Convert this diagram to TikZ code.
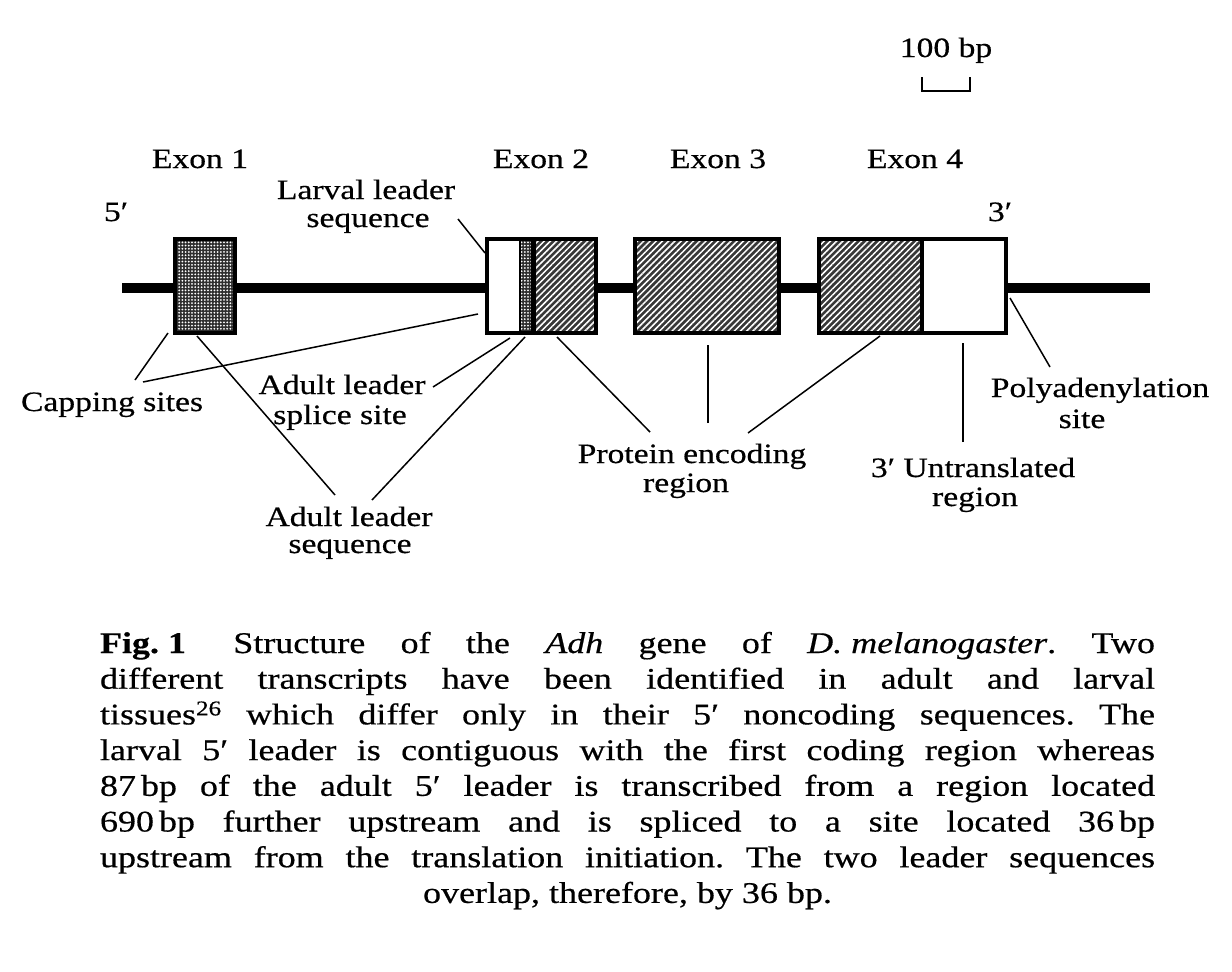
\documentclass[tikz,border=0pt]{standalone}
\usepackage{fontspec}
\setmainfont{Liberation Serif}[FakeStretch=1.2, FakeBold=0.5]
\usetikzlibrary{patterns,patterns.meta,calc}
\newcommand\lblfont{\fontsize{28}{30}\selectfont}
\frenchspacing
\tikzset{
  lbl/.style={inner sep=0pt, outer sep=0pt, anchor=base, font=\lblfont},
  dna/.style={line width=9.5pt},
  boxline/.style={line width=3.6pt},
  exonbox/.style={boxline, draw, inner sep=0pt, outer sep=0pt},
  stipple/.style={preaction={fill=black!82}, pattern={Dots[distance=3.2pt, radius=1pt]}, pattern color=white},
  hatch/.style={preaction={fill=black!78}, pattern={Lines[angle=45, distance=4.4pt, line width=1.5pt]}, pattern color=white},
  lead/.style={line width=1.5pt},
  scalebar/.style={line width=2.4pt}
}
\begin{document}
\begin{tikzpicture}[x=1pt,y=-1pt]
\useasboundingbox (0,0) rectangle (1232,972);
\fill[white] (0,0) rectangle (1232,972);

% DNA line
\coordinate (dnaL) at (122,288);
\coordinate (dnaR) at (1150,288);
\draw[dna] (dnaL) -- (dnaR);

% Exon 1
\node[exonbox, stipple, minimum width=60pt, minimum height=94pt] (ex1) at (205,286) {};

% Exon 2
\node[exonbox, fill=white, minimum width=109pt, minimum height=94pt] (ex2) at (541.5,286) {};
\path[stipple] (520,239) rectangle (532,333);
\fill (531,239) rectangle (536,333);
\path[hatch] (536,239) rectangle (596,333);
\draw[boxline] (ex2.north west) rectangle (ex2.south east);
\draw[line width=2pt] (520,239) -- (520,333);

% Exon 3
\node[exonbox, hatch, minimum width=144pt, minimum height=94pt] (ex3) at (707,286) {};

% Exon 4
\node[exonbox, fill=white, minimum width=187pt, minimum height=94pt] (ex4) at (912.5,286) {};
\path[hatch] (819,239) rectangle (922,333);
\draw[boxline] (922,239) -- (922,333);
\draw[boxline] (ex4.north west) rectangle (ex4.south east);

% scale bar
\node[lbl] (scale) at (946,57) {100 bp};
\coordinate (sbL) at (922,77);
\coordinate (sbR) at (970,77);
\draw[scalebar] (sbL) -- ++(0,14) -| (sbR);

% exon labels
\node[lbl] (lex1) at (200,168) {Exon 1};
\node[lbl] (lex2) at (541,168) {Exon 2};
\node[lbl] (lex3) at (718,168) {Exon 3};
\node[lbl] (lex4) at (915,168) {Exon 4};
\node[lbl] (five) at (116,221) {5′};
\node[lbl] (three) at (1000,221) {3′};

% larval leader
\node[lbl] (larv1) at (366,199) {Larval leader};
\node[lbl] (larv2) at (368,227) {sequence};
\coordinate (larvA) at (458,219);
\coordinate (larvB) at (485,253);
\draw[lead] (larvA) -- (larvB);

% capping sites
\node[lbl] (cap) at (112,411) {Capping sites};
\coordinate (capA) at (135,380);
\coordinate (capA2) at (168,333);
\coordinate (capB) at (143,382);
\coordinate (capB2) at (478,314);
\draw[lead] (capA) -- (capA2);
\draw[lead] (capB) -- (capB2);

% adult leader splice site
\node[lbl] (spl1) at (342,394) {Adult leader};
\node[lbl] (spl2) at (340,424) {splice site};
\coordinate (splA) at (433,387);
\coordinate (splB) at (510,338);
\draw[lead] (splA) -- (splB);

% adult leader sequence
\node[lbl] (ads1) at (349,526) {Adult leader};
\node[lbl] (ads2) at (350,553) {sequence};
\coordinate (adsA) at (335,495);
\coordinate (adsA2) at (197,336);
\coordinate (adsB) at (372,500);
\coordinate (adsB2) at (525,337);
\draw[lead] (adsA) -- (adsA2);
\draw[lead] (adsB) -- (adsB2);

% protein encoding region
\node[lbl] (prot1) at (692,463) {Protein encoding};
\node[lbl] (prot2) at (686,492) {region};
\coordinate (protA) at (650,432);
\coordinate (protA2) at (557,337);
\coordinate (protB) at (708,423);
\coordinate (protB2) at (708,345);
\coordinate (protC) at (748,433);
\coordinate (protC2) at (880,336);
\draw[lead] (protA) -- (protA2);
\draw[line width=2.2pt] (protB) -- (protB2);
\draw[lead] (protC) -- (protC2);

% 3' untranslated
\node[lbl] (utr1) at (973,477) {3′ Untranslated};
\node[lbl] (utr2) at (975,506) {region};
\coordinate (utrA) at (963,442);
\coordinate (utrB) at (963,343);
\draw[line width=2pt] (utrA) -- (utrB);

% polyadenylation
\node[lbl] (poly1) at (1100,397) {Polyadenylation};
\node[lbl] (poly2) at (1082,428) {site};
\coordinate (polyA) at (1050,367);
\coordinate (polyB) at (1010,298);
\draw[lead] (polyA) -- (polyB);

% caption
\node[inner sep=0pt, outer sep=0pt, anchor=base west] (caption) at (100,653)
{\parbox[t]{1055pt}{\fontsize{30}{35.7}\selectfont
\makebox[\linewidth][s]{\mbox{\textbf{Fig.\ 1}}\hspace{12pt} Structure of the \textit{Adh} gene of \mbox{\textit{D.\ melanogaster}.} Two}\\
\makebox[\linewidth][s]{different transcripts have been identified in adult and larval}\\
\makebox[\linewidth][s]{tissues\textsuperscript{26} which differ only in their 5′ noncoding sequences. The}\\
\makebox[\linewidth][s]{larval 5′ leader is contiguous with the first coding region whereas}\\
\makebox[\linewidth][s]{87\,bp of the adult 5′ leader is transcribed from a region located}\\
\makebox[\linewidth][s]{690\,bp further upstream and is spliced to a site located 36\,bp}\\
\makebox[\linewidth][s]{upstream from the translation initiation. The two leader sequences}\\
\makebox[\linewidth]{overlap, therefore, by 36 bp.}}};
\end{tikzpicture}
\end{document}
